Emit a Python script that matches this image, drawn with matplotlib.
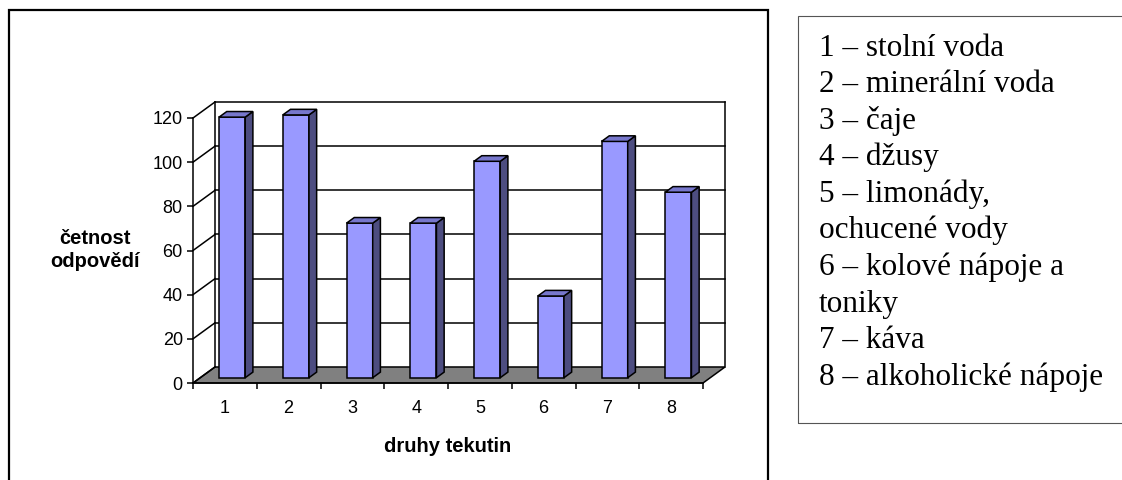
import numpy as np
import matplotlib
matplotlib.use("Agg")
import matplotlib.pyplot as plt
from matplotlib.patches import Polygon, Rectangle

# survey data: how often each kind of drink was named
categories = ["1", "2", "3", "4", "5", "6", "7", "8"]
counts = [118, 119, 70, 70, 98, 37, 107, 84]
y_ticks = [0, 20, 40, 60, 80, 100, 120]

legend_lines = [
    "1 – stolní voda",
    "2 – minerální voda",
    "3 – čaje",
    "4 – džusy",
    "5 – limonády,",
    "ochucené vody",
    "6 – kolové nápoje a",
    "toniky",
    "7 – káva",
    "8 – alkoholické nápoje",
]

W, H = 1122, 480

# oblique depth of the 3d box, in data units (categories, counts)
DX = 0.345
DY = 7.25
BAR_W = 0.41
F0, F1 = 0.33, 0.68   # front and back of the columns as a share of the depth

FRONT = "#9999ff"
SIDE = "#4d4d80"
TOP = "#7777cc"
FLOOR = "#808080"
LW = 1.1

plt.rcParams["font.family"] = ["Liberation Sans", "DejaVu Sans"]

fig = plt.figure(figsize=(W / 100, H / 100), dpi=100)

# front plane of the plot: x 193..703 px, y 383..118 px
ax = fig.add_axes([193 / W, 1 - 383 / H, (703 - 193) / W, (383 - 118) / H])
ax.set_xlim(0, len(categories))
ax.set_ylim(0, 120)
ax.set_facecolor("none")
for side in ["top", "right"]:
    ax.spines[side].set_visible(False)
ax.spines["left"].set_linewidth(LW)
ax.spines["bottom"].set_linewidth(LW)

ax.set_yticks(y_ticks)
ax.set_yticklabels([str(t) for t in y_ticks], fontsize=13)
ax.tick_params(axis="y", direction="out", length=4.3, width=LW, pad=3)

n = len(categories)
ax.set_xticks(np.arange(n + 1))
ax.set_xticklabels([])
ax.set_xticks(np.arange(n) + 0.5, minor=True)
ax.set_xticklabels(categories, minor=True, fontsize=13)
ax.tick_params(axis="x", which="major", direction="out", length=4, width=LW)
ax.tick_params(axis="x", which="minor", length=0, pad=12)

# floor
floor = Polygon([(0, 0), (n, 0), (n + DX, DY), (DX, DY)], closed=True,
                facecolor=FLOOR, edgecolor="black", lw=LW, clip_on=False, zorder=1)
ax.add_patch(floor)

# back wall gridlines and side wall diagonals
for v in y_ticks:
    ax.plot([0, DX], [v, v + DY], color="black", lw=LW, clip_on=False, zorder=1)
    if v > 0:
        ax.plot([DX, n + DX], [v + DY, v + DY], color="black", lw=LW,
                clip_on=False, zorder=1)
ax.plot([DX, DX], [DY, 120 + DY], color="black", lw=LW, clip_on=False, zorder=1)
ax.plot([n + DX, n + DX], [DY, 120 + DY], color="black", lw=LW, clip_on=False, zorder=1)

# columns: front face through ax.bar, side and top faces as polygons
centers = np.arange(n) + 0.5
ax.bar(centers + F0 * DX, counts, width=BAR_W, bottom=F0 * DY,
       color=FRONT, edgecolor="black", linewidth=LW, zorder=3, clip_on=False)
d = F1 - F0
for c, v in zip(centers, counts):
    x0 = c - BAR_W / 2 + F0 * DX
    x1 = x0 + BAR_W
    y0 = F0 * DY
    y1 = y0 + v
    side_face = Polygon([(x1, y0), (x1 + d * DX, y0 + d * DY),
                         (x1 + d * DX, y1 + d * DY), (x1, y1)], closed=True,
                        facecolor=SIDE, edgecolor="black", lw=LW, zorder=3, clip_on=False)
    top_face = Polygon([(x0, y1), (x1, y1), (x1 + d * DX, y1 + d * DY),
                        (x0 + d * DX, y1 + d * DY)], closed=True,
                       facecolor=TOP, edgecolor="black", lw=LW, zorder=3, clip_on=False)
    ax.add_patch(side_face)
    ax.add_patch(top_face)

# axis titles
fig.text(95 / W, 1 - 250 / H, "četnost\nodpovědí", fontsize=14.5, fontweight="bold",
         ha="center", va="center", linespacing=1.25)
fig.text(448 / W, 1 - 447 / H, "druhy tekutin", fontsize=14.5, fontweight="bold",
         ha="center", va="center")

# chart frame
fig.add_artist(Rectangle((9 / W, -20 / H), (768 - 9) / W, (H - 10 + 20) / H,
                         transform=fig.transFigure, fill=False,
                         edgecolor="black", lw=1.6))

# legend box on the right
fig.add_artist(Rectangle((798 / W, 1 - 423 / H), 400 / W, (423 - 16) / H,
                         transform=fig.transFigure, fill=False,
                         edgecolor="#555555", lw=0.8))
for k, line in enumerate(legend_lines):
    fig.text(819 / W, 1 - (55.5 + 36.6 * k) / H, line, fontsize=22.5,
             family=["Liberation Serif", "DejaVu Serif"],
             ha="left", va="baseline")

fig.savefig("out.png", dpi=100)
